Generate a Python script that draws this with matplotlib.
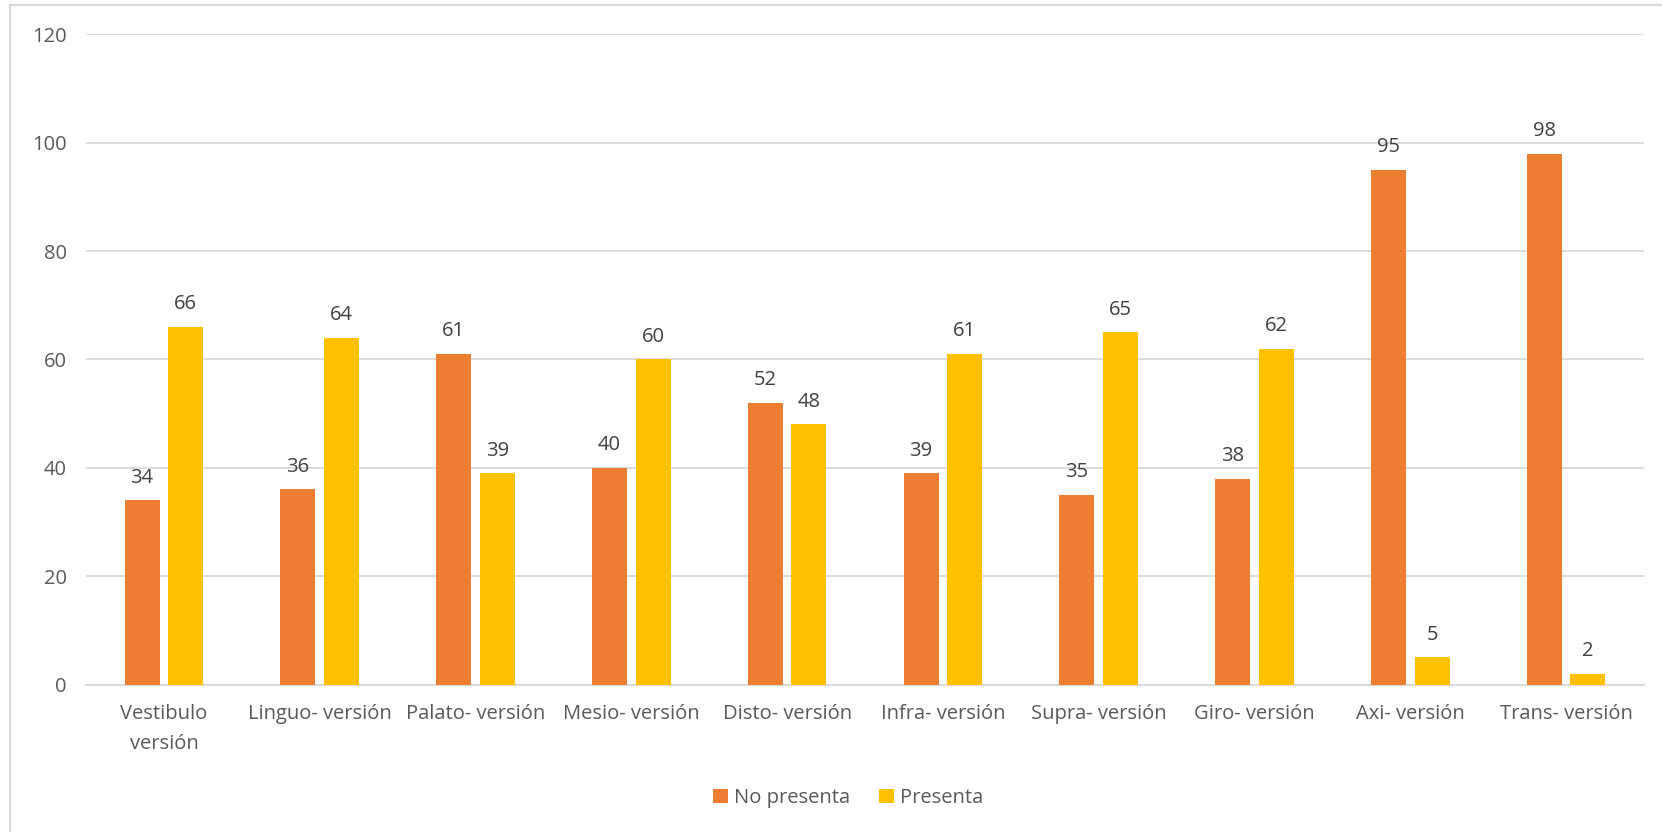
import matplotlib.pyplot as plt
import numpy as np
from matplotlib.lines import Line2D

categorias = ["Vestibulo\nversión", "Linguo- versión", "Palato- versión", "Mesio- versión",
              "Disto- versión", "Infra- versión", "Supra- versión", "Giro- versión",
              "Axi- versión", "Trans- versión"]
no_presenta = [34, 36, 61, 40, 52, 39, 35, 38, 95, 98]
presenta = [66, 64, 39, 60, 48, 61, 65, 62, 5, 2]

NARANJA = "#ED7D31"
AMARILLO = "#FFC000"
TEXTO = "#595959"

plt.rcParams["font.family"] = ["Open Sans", "DejaVu Sans"]

W, H = 1662, 832
fig = plt.figure(figsize=(W / 100, H / 100), dpi=100)
ax = fig.add_axes([86 / W, 1 - 684.5 / H, (1644 - 86) / W, (684.5 - 34.3) / H])

x = np.arange(len(categorias))
ancho = 0.225
b1 = ax.bar(x - 0.14, no_presenta, ancho, color=NARANJA, label="No presenta", zorder=3)
b2 = ax.bar(x + 0.14, presenta, ancho, color=AMARILLO, label="Presenta", zorder=3)

for barras in (b1, b2):
    for b in barras:
        ax.annotate(f"{b.get_height():g}", (b.get_x() + b.get_width() / 2, b.get_height()),
                    xytext=(0, 9), textcoords="offset points", ha="center", va="bottom",
                    fontsize=14.5, color="#404040")

ax.set_xlim(-0.5, len(categorias) - 0.5)
ax.set_ylim(0, 120)
ax.set_yticks(range(0, 121, 20))
ax.set_xticks(x)
ax.set_xticklabels(categorias, linespacing=1.65)
ax.yaxis.grid(True, color="#D9D9D9", linewidth=1.3, zorder=0)
for lado in ("top", "right", "left"):
    ax.spines[lado].set_visible(False)
ax.spines["bottom"].set_color("#D9D9D9")
ax.spines["bottom"].set_linewidth(1.5)
ax.tick_params(axis="both", length=0, labelsize=14.5, colors=TEXTO)
ax.tick_params(axis="x", pad=14)
ax.tick_params(axis="y", pad=14)

fig.legend(handles=[b1, b2], loc="center", bbox_to_anchor=(848 / W, 1 - 798 / H), ncol=2,
           frameon=False, fontsize=14.5, labelcolor=TEXTO, handlelength=0.75, handleheight=0.75,
           handletextpad=0.3, columnspacing=1.4)

# marco exterior del gráfico
fig.add_artist(Line2D([10 / W, 10 / W], [0, 1 - 5 / H], color="#D9D9D9", linewidth=1.5))
fig.add_artist(Line2D([10 / W, 1], [1 - 5 / H, 1 - 5 / H], color="#D9D9D9", linewidth=1.5))

fig.savefig("out.png", dpi=100)
